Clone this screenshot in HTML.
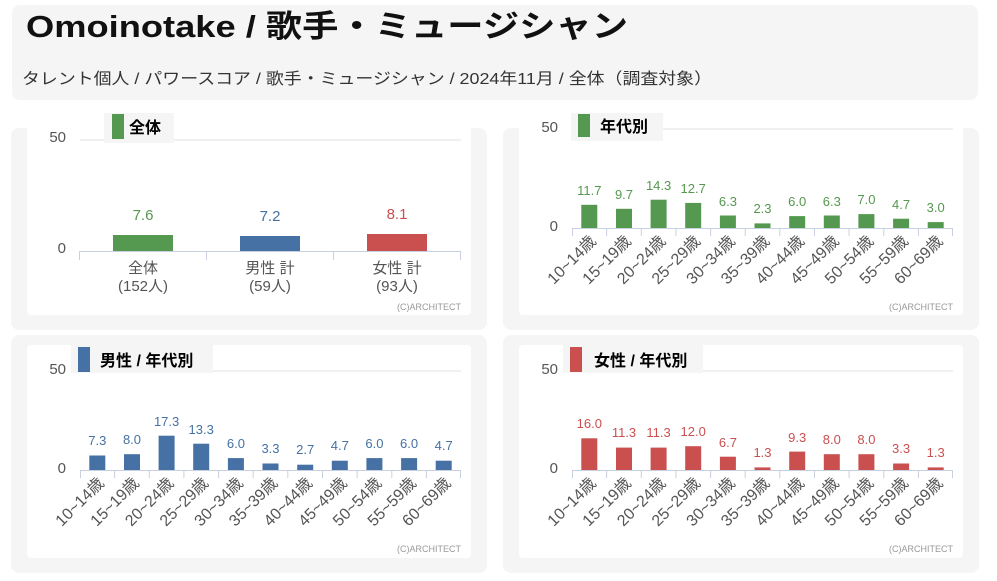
<!DOCTYPE html>
<html><head><meta charset="utf-8"><style>
body{margin:0;background:#fff;width:997px;height:581px;overflow:hidden}
svg{display:block;font-family:"Liberation Sans","Noto Sans CJK JP",sans-serif}
</style></head><body>
<svg width="997" height="581" viewBox="0 0 997 581">
<rect x="12" y="5" width="966" height="95" rx="8" fill="#f5f5f5"/>
<text x="26" y="37" font-size="31" font-weight="bold" fill="#111" textLength="602" lengthAdjust="spacingAndGlyphs">Omoinotake / 歌手・ミュージシャン</text>
<text x="22" y="84" font-size="16" fill="#333" textLength="690" lengthAdjust="spacingAndGlyphs">タレント個人 / パワースコア / 歌手・ミュージシャン / 2024年11月 / 全体（調査対象）</text>

<rect x="11" y="128" width="476" height="202" rx="8" fill="#f5f5f5"/>
<rect x="503" y="128" width="476" height="202" rx="8" fill="#f5f5f5"/>
<rect x="11" y="335" width="476" height="238" rx="8" fill="#f5f5f5"/>
<rect x="503" y="335" width="476" height="238" rx="8" fill="#f5f5f5"/>
<rect x="27" y="113" width="444" height="202" rx="4" fill="#fff"/>
<rect x="519" y="113" width="444" height="202" rx="4" fill="#fff"/>
<rect x="27" y="345" width="444" height="213" rx="4" fill="#fff"/>
<rect x="519" y="345" width="444" height="213" rx="4" fill="#fff"/>

<!-- chart 1 -->
<line x1="80" y1="140" x2="461" y2="140" stroke="#dde0e6"/>
<text x="66" y="142" font-size="15" fill="#555" text-anchor="end">50</text>
<text x="66" y="253" font-size="15" fill="#555" text-anchor="end">0</text>
<rect x="113" y="235" width="60" height="16" fill="#55984f"/>
<rect x="240" y="236" width="60" height="15" fill="#4571a4"/>
<rect x="367" y="234" width="60" height="17" fill="#c9504f"/>
<g stroke="#c8d0e0"><line x1="79" y1="251.5" x2="461" y2="251.5"/><line x1="79.5" y1="251" x2="79.5" y2="260"/><line x1="206.5" y1="251" x2="206.5" y2="260"/><line x1="333.5" y1="251" x2="333.5" y2="260"/><line x1="460.5" y1="251" x2="460.5" y2="260"/></g>
<g font-size="15" text-anchor="middle">
<text x="143" y="220" fill="#55984f">7.6</text><text x="270" y="221" fill="#4571a4">7.2</text><text x="397" y="219" fill="#c9504f">8.1</text>
<g fill="#555"><text x="143" y="273">全体</text><text x="143" y="291">(152人)</text><text x="270" y="273">男性 計</text><text x="270" y="291">(59人)</text><text x="397" y="273">女性 計</text><text x="397" y="291">(93人)</text></g>
</g>
<rect x="104" y="113" width="70" height="30" fill="#f5f5f5"/>
<rect x="112" y="114" width="12" height="25" fill="#55984f"/>
<text x="129" y="133" font-size="16" font-weight="bold" fill="#000">全体</text>
<text x="461" y="310" font-size="9" fill="#999" text-anchor="end">(C)ARCHITECT</text>

<defs>
<g id="ax">
<line x1="0" y1="-99" x2="381" y2="-99" stroke="#dde0e6"/>
<g stroke="#c8d0e0"><line x1="0" y1="0.5" x2="381" y2="0.5"/>
<line x1="0.5" y1="0" x2="0.5" y2="8"/><line x1="34.6" y1="0" x2="34.6" y2="8"/><line x1="69.3" y1="0" x2="69.3" y2="8"/><line x1="103.9" y1="0" x2="103.9" y2="8"/><line x1="138.6" y1="0" x2="138.6" y2="8"/><line x1="173.2" y1="0" x2="173.2" y2="8"/><line x1="207.8" y1="0" x2="207.8" y2="8"/><line x1="242.5" y1="0" x2="242.5" y2="8"/><line x1="277.1" y1="0" x2="277.1" y2="8"/><line x1="311.8" y1="0" x2="311.8" y2="8"/><line x1="346.4" y1="0" x2="346.4" y2="8"/><line x1="380.5" y1="0" x2="380.5" y2="8"/></g>
<text x="-14" y="-96" font-size="15" fill="#555" text-anchor="end">50</text>
<text x="-14" y="3" font-size="15" fill="#555" text-anchor="end">0</text>
<g font-size="16" fill="#555" text-anchor="end">
<text transform="translate(25,14) rotate(-45)">10~14歳</text>
<text transform="translate(60,14) rotate(-45)">15~19歳</text>
<text transform="translate(94.6,14) rotate(-45)">20~24歳</text>
<text transform="translate(129.2,14) rotate(-45)">25~29歳</text>
<text transform="translate(163.9,14) rotate(-45)">30~34歳</text>
<text transform="translate(198.5,14) rotate(-45)">35~39歳</text>
<text transform="translate(233.2,14) rotate(-45)">40~44歳</text>
<text transform="translate(267.8,14) rotate(-45)">45~49歳</text>
<text transform="translate(302.4,14) rotate(-45)">50~54歳</text>
<text transform="translate(337.1,14) rotate(-45)">55~59歳</text>
<text transform="translate(371.7,14) rotate(-45)">60~69歳</text>
</g>
<text x="381" y="82" font-size="9" fill="#999" text-anchor="end">(C)ARCHITECT</text>
</g>
</defs>

<g transform="translate(572,228)">
<use href="#ax"/>
<g fill="#55984f">
<rect x="9.3" y="-23.2" width="16" height="23.2"/><rect x="44" y="-19.2" width="16" height="19.2"/><rect x="78.6" y="-28.3" width="16" height="28.3"/><rect x="113.2" y="-25.1" width="16" height="25.1"/><rect x="147.9" y="-12.5" width="16" height="12.5"/><rect x="182.5" y="-4.6" width="16" height="4.6"/><rect x="217.2" y="-11.9" width="16" height="11.9"/><rect x="251.8" y="-12.5" width="16" height="12.5"/><rect x="286.4" y="-13.9" width="16" height="13.9"/><rect x="321.1" y="-9.3" width="16" height="9.3"/><rect x="355.7" y="-5.9" width="16" height="5.9"/>
<g font-size="13" text-anchor="middle">
<text x="17.3" y="-33">11.7</text><text x="52" y="-29">9.7</text><text x="86.6" y="-38">14.3</text><text x="121.2" y="-35">12.7</text><text x="155.9" y="-22">6.3</text><text x="190.5" y="-15">2.3</text><text x="225.2" y="-22">6.0</text><text x="259.8" y="-22">6.3</text><text x="294.4" y="-24">7.0</text><text x="329.1" y="-19">4.7</text><text x="363.7" y="-16">3.0</text>
</g></g></g>
<rect x="571" y="113" width="92" height="28" fill="#f5f5f5"/>
<rect x="578" y="114" width="12" height="23" fill="#55984f"/>
<text x="600" y="132" font-size="16" font-weight="bold" fill="#000">年代別</text>

<g transform="translate(80,470)">
<use href="#ax"/>
<g fill="#4571a4">
<rect x="9.3" y="-14.5" width="16" height="14.5"/><rect x="44" y="-15.8" width="16" height="15.8"/><rect x="78.6" y="-34.3" width="16" height="34.3"/><rect x="113.2" y="-26.3" width="16" height="26.3"/><rect x="147.9" y="-11.9" width="16" height="11.9"/><rect x="182.5" y="-6.5" width="16" height="6.5"/><rect x="217.2" y="-5.3" width="16" height="5.3"/><rect x="251.8" y="-9.3" width="16" height="9.3"/><rect x="286.4" y="-11.9" width="16" height="11.9"/><rect x="321.1" y="-11.9" width="16" height="11.9"/><rect x="355.7" y="-9.3" width="16" height="9.3"/>
<g font-size="13" text-anchor="middle">
<text x="17.3" y="-25">7.3</text><text x="52" y="-26">8.0</text><text x="86.6" y="-44">17.3</text><text x="121.2" y="-36">13.3</text><text x="155.9" y="-22">6.0</text><text x="190.5" y="-17">3.3</text><text x="225.2" y="-16">2.7</text><text x="259.8" y="-20">4.7</text><text x="294.4" y="-22">6.0</text><text x="329.1" y="-22">6.0</text><text x="363.7" y="-20">4.7</text>
</g></g></g>
<rect x="71" y="345" width="142" height="28" fill="#f5f5f5"/>
<rect x="78" y="347" width="12" height="25" fill="#4571a4"/>
<text x="100" y="366" font-size="16" font-weight="bold" fill="#000">男性 / 年代別</text>

<g transform="translate(572,470)">
<use href="#ax"/>
<g fill="#c9504f">
<rect x="9.3" y="-31.7" width="16" height="31.7"/><rect x="44" y="-22.4" width="16" height="22.4"/><rect x="78.6" y="-22.4" width="16" height="22.4"/><rect x="113.2" y="-23.8" width="16" height="23.8"/><rect x="147.9" y="-13.3" width="16" height="13.3"/><rect x="182.5" y="-2.6" width="16" height="2.6"/><rect x="217.2" y="-18.4" width="16" height="18.4"/><rect x="251.8" y="-15.8" width="16" height="15.8"/><rect x="286.4" y="-15.8" width="16" height="15.8"/><rect x="321.1" y="-6.5" width="16" height="6.5"/><rect x="355.7" y="-2.6" width="16" height="2.6"/>
<g font-size="13" text-anchor="middle">
<text x="17.3" y="-42">16.0</text><text x="52" y="-33">11.3</text><text x="86.6" y="-33">11.3</text><text x="121.2" y="-34">12.0</text><text x="155.9" y="-23">6.7</text><text x="190.5" y="-13">1.3</text><text x="225.2" y="-28">9.3</text><text x="259.8" y="-26">8.0</text><text x="294.4" y="-26">8.0</text><text x="329.1" y="-17">3.3</text><text x="363.7" y="-13">1.3</text>
</g></g></g>
<rect x="563" y="345" width="140" height="28" fill="#f5f5f5"/>
<rect x="570" y="347" width="12" height="25" fill="#c9504f"/>
<text x="594" y="366" font-size="16" font-weight="bold" fill="#000">女性 / 年代別</text>
</svg>
</body></html>
